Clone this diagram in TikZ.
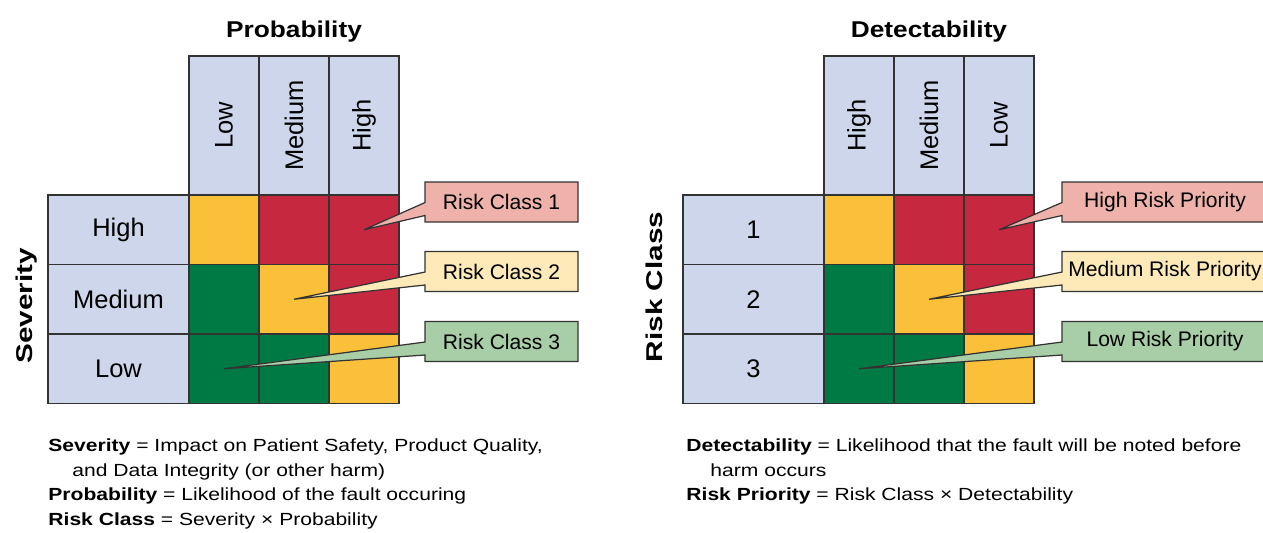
\documentclass[tikz,border=0pt]{standalone}
\usepackage{fontspec}
\setmainfont{Liberation Sans}
\usetikzlibrary{shapes.callouts}

\definecolor{gridline}{HTML}{333333}
\definecolor{headblue}{HTML}{CDD6EA}
\definecolor{cellyellow}{HTML}{FBC03A}
\definecolor{cellred}{HTML}{C62840}
\definecolor{cellgreen}{HTML}{007A45}
\definecolor{tagred}{HTML}{EEB2AA}
\definecolor{tagyellow}{HTML}{FEEAB8}
\definecolor{taggreen}{HTML}{A8CEA8}

\tikzset{
  cell/.style={draw=gridline, line width=0.7pt, inner sep=0pt,
    minimum width=1.4cm, minimum height=1.39cm},
  colhead/.style={cell, fill=headblue, rotate=90,
    minimum width=2.78cm, minimum height=1.4cm,
    font=\fontsize{14.5}{17}\selectfont},
  rowhead/.style={cell, fill=headblue, minimum width=2.82cm,
    font=\fontsize{14.5}{17}\selectfont},
  yelcell/.style={cell, fill=cellyellow},
  redcell/.style={cell, fill=cellred},
  grncell/.style={cell, fill=cellgreen},
  risktag/.style={rectangle callout, draw=gridline, line width=0.7pt,
    inner sep=0pt, minimum height=0.8cm, callout pointer width=0.26cm,
    font=\fontsize{12}{14}\selectfont},
  heading/.style={anchor=base, xscale=1.15,
    font=\bfseries\fontsize{13}{15}\selectfont},
  sidelabel/.style={anchor=base, rotate=90, xscale=1.3,
    font=\bfseries\fontsize{13}{15}\selectfont},
  note/.style={anchor=base west, inner sep=0pt, xscale=1.2,
    font=\fontsize{10}{12}\selectfont}
}

\begin{document}
\begin{tikzpicture}[x=0.02cm, y=-0.02cm]
  \useasboundingbox (0,0) rectangle (1263,532);
  \clip (0,0) rectangle (1263,532);

  % severity x probability
  \draw
    (294,37) node[heading] (ptitle){Probability}
    (32,306) node[sidelabel] (sev){Severity}
    (224,125.5) node[colhead] (pl){Low}
    (294,125.5) node[colhead] (pm){Medium}
    (364,125.5) node[colhead] (ph){High}
    (118.5,229.75) node[rowhead] (sh){High}
    (118.5,299.25) node[rowhead] (sm){Medium}
    (118.5,368.75) node[rowhead] (sl){Low}
    (224,229.75) node[yelcell] (c11){}
    (294,229.75) node[redcell] (c12){}
    (364,229.75) node[redcell] (c13){}
    (224,299.25) node[grncell] (c21){}
    (294,299.25) node[yelcell] (c22){}
    (364,299.25) node[redcell] (c23){}
    (224,368.75) node[grncell] (c31){}
    (294,368.75) node[grncell] (c32){}
    (364,368.75) node[yelcell] (c33){};
  \node[risktag, fill=tagred, minimum width=3.06cm,
    callout absolute pointer={(c13.center)}] (rc1) at (501.5,202) {Risk Class 1};
  \node[risktag, fill=tagyellow, minimum width=3.06cm,
    callout absolute pointer={(c22.center)}] (rc2) at (501.5,271.5) {Risk Class 2};
  \node[risktag, fill=taggreen, minimum width=3.06cm,
    callout absolute pointer={(c31.center)}] (rc3) at (501.5,341.5) {Risk Class 3};

  % risk class x detectability
  \draw
    (929,37) node[heading] (dtitle){Detectability}
    (662,287) node[sidelabel] (rcl){Risk Class}
    (859,125.5) node[colhead] (dh){High}
    (929,125.5) node[colhead] (dm){Medium}
    (999,125.5) node[colhead] (dl){Low}
    (753.5,229.75) node[rowhead] (r1){1}
    (753.5,299.25) node[rowhead] (r2){2}
    (753.5,368.75) node[rowhead] (r3){3}
    (859,229.75) node[yelcell] (d11){}
    (929,229.75) node[redcell] (d12){}
    (999,229.75) node[redcell] (d13){}
    (859,299.25) node[grncell] (d21){}
    (929,299.25) node[yelcell] (d22){}
    (999,299.25) node[redcell] (d23){}
    (859,368.75) node[grncell] (d31){}
    (929,368.75) node[grncell] (d32){}
    (999,368.75) node[yelcell] (d33){};
  \node[risktag, fill=tagred, minimum width=4.12cm,
    callout absolute pointer={(d13.center)}] (rp1) at (1165,202) {High Risk Priority};
  \node[risktag, fill=tagyellow, minimum width=4.12cm,
    callout absolute pointer={(d22.center)}] (rp2) at (1165,271.5) {Medium Risk Priority};
  \node[risktag, fill=taggreen, minimum width=4.12cm,
    callout absolute pointer={(d31.center)}] (rp3) at (1165,341.5) {Low Risk Priority};

  % definitions
  \draw
    (48,451) node[note] (n1){\textbf{Severity} = Impact on Patient Safety, Product Quality,}
    (72,476) node[note] (n2){and Data Integrity (or other harm)}
    (48,500) node[note] (n3){\textbf{Probability} = Likelihood of the fault occuring}
    (48,525) node[note] (n4){\textbf{Risk Class} = Severity × Probability}
    (686,451) node[note] (n5){\textbf{Detectability} = Likelihood that the fault will be noted before}
    (710,476) node[note] (n6){harm occurs}
    (686,500) node[note] (n7){\textbf{Risk Priority} = Risk Class × Detectability};
\end{tikzpicture}
\end{document}
